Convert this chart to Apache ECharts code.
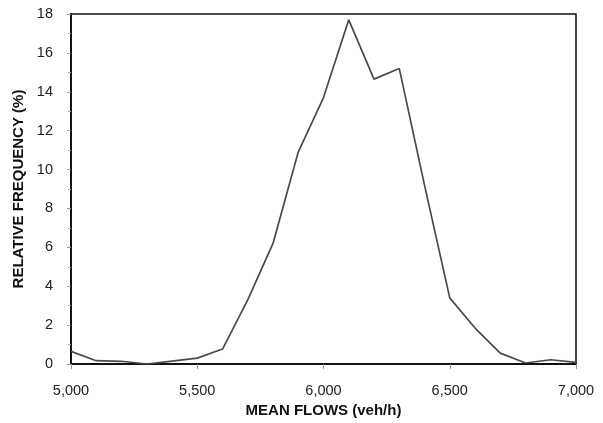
<!DOCTYPE html>
<html>
<head>
<meta charset="utf-8">
<script src="https://cdn.jsdelivr.net/npm/echarts@6/dist/echarts.min.js"></script>
<style>
  html, body { margin: 0; padding: 0; background: #fff; }
  #chart { width: 603px; height: 423px; }
</style>
</head>
<body>
<div id="chart"></div>
<script>
    // mean flow bins (veh/h)
    var flows = [5000, 5100, 5200, 5300, 5400, 5500, 5600, 5700, 5800, 5900,
                 6000, 6100, 6200, 6300, 6400, 6500, 6600, 6700, 6800, 6900, 7000];
    // relative frequency (%)
    var frequency = [0.65, 0.17, 0.14, 0.0, 0.15, 0.3, 0.77, 3.3, 6.2, 10.9,
                     13.7, 17.7, 14.65, 15.2, 9.2, 3.4, 1.85, 0.56, 0.05, 0.22, 0.08];

    var xTicks = [5000, 5500, 6000, 6500, 7000];
    var yTicks = [0, 2, 4, 6, 8, 10, 12, 14, 16, 18];

    var font = 'Liberation Sans, Arial, sans-serif';

    var chart = echarts.init(document.getElementById('chart'));

    var points = flows.map(function(f, i) {
        return [f, frequency[i]];
    });

    chart.setOption({
        animation: false,
        backgroundColor: '#fff',
        grid: {
            left: 71,
            right: 27,
            top: 14,
            bottom: 57,
            show: true,
            borderColor: '#111',
            borderWidth: 1.5
        },
        xAxis: {
            type: 'value',
            min: xTicks[0],
            max: xTicks[xTicks.length - 1],
            interval: 500,
            name: 'MEAN FLOWS (veh/h)',
            nameLocation: 'middle',
            nameGap: 39,
            nameTextStyle: { fontFamily: font, fontWeight: 'bold', fontSize: 15, color: '#111' },
            axisLine: { lineStyle: { color: '#111', width: 2 } },
            axisTick: { show: true, inside: false, length: 5, lineStyle: { color: '#999' } },
            axisLabel: {
                fontFamily: font, fontSize: 14.5, color: '#222', margin: 19,
                formatter: function(v) { return v.toLocaleString('en-US'); }
            },
            splitLine: { show: false }
        },
        yAxis: {
            type: 'value',
            min: yTicks[0],
            max: yTicks[yTicks.length - 1],
            interval: 2,
            name: 'RELATIVE FREQUENCY (%)',
            nameLocation: 'middle',
            nameGap: 44,
            nameTextStyle: { fontFamily: font, fontWeight: 'bold', fontSize: 15, color: '#111' },
            axisLine: { show: true, lineStyle: { color: '#111', width: 2 } },
            axisTick: { show: true, length: 4, lineStyle: { color: '#999' } },
            minorTick: { show: true, splitNumber: 2, length: 3, lineStyle: { color: '#aaa' } },
            axisLabel: { fontFamily: font, fontSize: 14.5, color: '#222', margin: 18 },
            splitLine: { show: false }
        },
        series: [{
            type: 'line',
            data: points,
            symbol: 'none',
            lineStyle: { color: '#4a4a4a', width: 1.7 }
        }]
    });
</script>
</body>
</html>
